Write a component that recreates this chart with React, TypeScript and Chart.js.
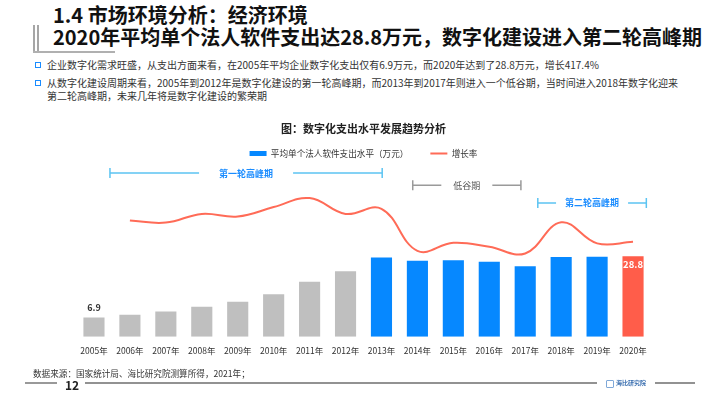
import React, { useEffect, useRef } from 'react';
import { Chart, registerables } from 'chart.js';

Chart.register(...registerables);

// ---------- data ----------
const years = ['2005年', '2006年', '2007年', '2008年', '2009年', '2010年', '2011年', '2012年', '2013年', '2014年', '2015年', '2016年', '2017年', '2018年', '2019年', '2020年'];
const spending = [6.9, 7.9, 9.0, 10.7, 12.5, 15.2, 19.7, 23.4, 28.3, 27.2, 27.4, 26.8, 25.2, 28.5, 28.6, 28.8];
const growthRate = [null, 15.5, 14.2, 19.8, 18.1, 24.2, 30.0, 19.8, 23.1, -4.0, 1.2, -1.4, -5.7, 14.4, 0.8, 1.8];
const seriesNames = ['平均单个法人软件支出水平（万元）', '增长率'];
const periodNames = ['第一轮高峰期', '低谷期', '第二轮高峰期'];
const labeledIndexes = [0, 15];
const chartTitle = '图：数字化支出水平发展趋势分析';
const headline1 = '1.4 市场环境分析：经济环境';
const headline2 = '2020年平均单个法人软件支出达28.8万元，数字化建设进入第二轮高峰期';
const bullets = [
  '企业数字化需求旺盛，从支出方面来看，在2005年平均企业数字化支出仅有6.9万元，而2020年达到了28.8万元，增长417.4%',
  '从数字化建设周期来看，2005年到2012年是数字化建设的第一轮高峰期，而2013年到2017年则进入一个低谷期，当时间进入2018年数字化迎来',
  '第二轮高峰期，未来几年将是数字化建设的繁荣期',
];
const sourceNote = '数据来源：国家统计局、海比研究院测算所得，2021年；';
const pageNo = '12';

// ---------- style ----------
const FONT = "'Noto Sans CJK SC', 'Noto Sans', sans-serif";
const GRAY = '#BFBFBF';
const BLUE = '#0688FF';
const RED = '#FF5D4A';
const LINE_RED = '#FF6B57';
const BRACKET_BLUE = '#5CC4F2';
const TEXT_BLUE = '#1A8CFF';

const barColor = (i: number) => (i === years.length - 1 ? RED : i < 8 ? GRAY : BLUE);

const bracketPlugin = {
  id: 'brackets',
  afterDraw(chart: any, _a: any, opts: any) {
    const { ctx } = chart;
    const xs = chart.scales.x;
    const ys = chart.scales.y;
    ctx.save();
    opts.items.forEach((b: any, k: number) => {
      const x0 = xs.getPixelForValue(b.from);
      const x1 = xs.getPixelForValue(b.to);
      const yy = ys.getPixelForValue(b.level);
      const cx = (x0 + x1) / 2;
      ctx.font = `${b.bold ? 'bold ' : ''}9px ${FONT}`;
      const text = periodNames[k];
      const tw = ctx.measureText(text).width;
      ctx.strokeStyle = b.lineColor;
      ctx.lineWidth = 1.5;
      ctx.beginPath();
      ctx.moveTo(x0, yy);
      ctx.lineTo(cx - tw / 2 - b.gap, yy);
      ctx.moveTo(cx + tw / 2 + b.gap, yy);
      ctx.lineTo(x1, yy);
      ctx.moveTo(x0, yy - 5);
      ctx.lineTo(x0, yy + 5);
      ctx.moveTo(x1, yy - 5);
      ctx.lineTo(x1, yy + 5);
      ctx.stroke();
      ctx.fillStyle = b.textColor;
      ctx.textAlign = 'center';
      ctx.textBaseline = 'middle';
      ctx.fillText(text, cx, yy);
    });
    ctx.restore();
  },
};

const valueLabelPlugin = {
  id: 'valueLabels',
  afterDatasetsDraw(chart: any) {
    const { ctx } = chart;
    const meta = chart.getDatasetMeta(0);
    ctx.save();
    ctx.textAlign = 'center';
    ctx.textBaseline = 'middle';
    labeledIndexes.forEach((i) => {
      const el = meta.data[i];
      const v = spending[i];
      if (i === years.length - 1) {
        ctx.font = `bold 9.5px ${FONT}`;
        ctx.fillStyle = '#FFFFFF';
        ctx.fillText(v.toFixed(1), el.x, el.y + 8.5);
      } else {
        ctx.font = `bold 9px ${FONT}`;
        ctx.fillStyle = '#333333';
        ctx.fillText(v.toFixed(1), el.x, el.y - 9.5);
      }
    });
    ctx.restore();
  },
};

function TrendChart() {
  const ref = useRef<HTMLCanvasElement | null>(null);
  useEffect(() => {
    if (!ref.current) return;
    Chart.defaults.font.family = FONT;
    const chart = new Chart(ref.current, {
      type: 'bar',
      data: {
        labels: years,
        datasets: [
          {
            type: 'bar',
            label: seriesNames[0],
            data: spending,
            backgroundColor: spending.map((_, i) => barColor(i)),
            borderWidth: 0,
            barPercentage: 0.6,
            categoryPercentage: 0.98,
            yAxisID: 'y',
          } as any,
          {
            type: 'line',
            label: seriesNames[1],
            data: growthRate,
            borderColor: LINE_RED,
            backgroundColor: LINE_RED,
            borderWidth: 2,
            pointRadius: 0,
            tension: 0.4,
            yAxisID: 'y1',
          } as any,
        ],
      },
      options: {
        animation: false,
        responsive: false,
        maintainAspectRatio: false,
        layout: { padding: { left: 76, right: 69, top: 0, bottom: 5 } },
        scales: {
          x: {
            grid: { display: false, drawTicks: false },
            border: { display: false },
            ticks: { color: '#333', font: { size: 8.5, family: FONT }, padding: 9, maxRotation: 0, autoSkip: false },
          },
          y: { display: false, min: 0, max: 60.4 },
          y1: { display: false, min: -59.4, max: 49.5, position: 'right' },
        },
        plugins: {
          title: {
            display: true,
            text: chartTitle,
            color: '#222',
            font: { size: 11, weight: 'bold', family: FONT },
            padding: { top: 12, bottom: -8 },
          },
          legend: {
            display: true,
            labels: {
              usePointStyle: true,
              pointStyleWidth: 17,
              boxHeight: 5,
              padding: 22,
              color: '#333',
              font: { size: 8.6, family: FONT },
              generateLabels: (c: any) => {
                const items = Chart.defaults.plugins.legend.labels.generateLabels(c);
                items.forEach((it: any) => {
                  if (it.datasetIndex === 0) {
                    it.pointStyle = 'rect';
                    it.fillStyle = BLUE;
                    it.strokeStyle = BLUE;
                    it.lineWidth = 0;
                  } else {
                    it.pointStyle = 'line';
                    it.strokeStyle = LINE_RED;
                    it.lineWidth = 2;
                  }
                  it.fontColor = '#333';
                });
                return items;
              },
            },
          },
          tooltip: { enabled: false },
          brackets: {
            items: [
              { from: 0.445, to: 8.02, level: 58.5, gap: 20, lineColor: BRACKET_BLUE, textColor: TEXT_BLUE, bold: true },
              { from: 8.87, to: 11.88, level: 54.2, gap: 12, lineColor: '#9A9A9A', textColor: '#555', bold: false },
              { from: 12.35, to: 15.37, level: 47.8, gap: 9, lineColor: BRACKET_BLUE, textColor: TEXT_BLUE, bold: true },
            ],
          },
        } as any,
      },
      plugins: [bracketPlugin, valueLabelPlugin],
    });
    return () => chart.destroy();
  }, []);
  return (
    <canvas
      ref={ref}
      width={720}
      height={260}
      style={{ position: 'absolute', left: 0, top: 110, width: 720, height: 260 }}
    />
  );
}

const abs = (left: number, centerY: number, size: number, extra: any = {}) => ({
  position: 'absolute' as const,
  left,
  top: centerY - size / 2 - 1,
  fontSize: size,
  lineHeight: `${size + 2}px`,
  whiteSpace: 'nowrap' as const,
  fontFamily: FONT,
  ...extra,
});

function FooterRule() {
  return (
    <svg width={720} height={8} style={{ position: 'absolute', left: 0, top: 379 }}>
      <line x1={25} y1={4} x2={57} y2={4} stroke="#6E6E6E" strokeWidth={1.4} />
      <line x1={85} y1={4} x2={597} y2={4} stroke="#6E6E6E" strokeWidth={1.4} />
      <line x1={655} y1={4} x2={695} y2={4} stroke="#6E6E6E" strokeWidth={1.4} />
    </svg>
  );
}

export default function App() {
  useEffect(() => {
    document.body.style.margin = '0';
  }, []);
  return (
    <div style={{ position: 'absolute', left: 0, top: 0, width: 720, height: 405, background: '#fff', overflow: 'hidden', fontFamily: FONT }}>
      {/* headline decoration */}
      <div style={{ position: 'absolute', left: 33, top: 25, width: 2, height: 27, background: '#A6A6A6' }} />
      <div style={{ position: 'absolute', left: 36.5, top: 25, width: 2, height: 27, background: '#A6A6A6' }} />
      <div style={{ position: 'absolute', left: 33, top: 51, width: 82, height: 2, background: '#B0B0B0' }} />
      <div style={abs(53, 15, 20, { fontWeight: 'bold', color: '#111' })}>{headline1}</div>
      <div style={abs(53, 37, 20, { fontWeight: 'bold', color: '#111' })}>{headline2}</div>

      {/* bullets */}
      {[65, 83].map((cy) => (
        <div key={cy} style={{ position: 'absolute', left: 35, top: cy - 3, width: 4, height: 4, border: `1.5px solid ${TEXT_BLUE}` }} />
      ))}
      <div style={abs(47, 65, 10, { color: '#333' })}>{bullets[0]}</div>
      <div style={abs(47, 83, 10, { color: '#333' })}>{bullets[1]}</div>
      <div style={abs(47, 96, 10, { color: '#333' })}>{bullets[2]}</div>

      <TrendChart />

      {/* footer */}
      <FooterRule />
      <div style={abs(33, 373, 8.6, { color: '#333' })}>{sourceNote}</div>
      <div style={abs(65, 385, 12, { color: '#222', fontWeight: 'bold' })}>{pageNo}</div>
      <div style={{ position: 'absolute', left: 606, top: 380, width: 6, height: 6, border: '1px solid #7FA8D8', borderRadius: 1 }} />
      <div style={abs(616, 383, 6, { color: '#3A6FB0', fontWeight: 'bold' })}>海比研究院</div>
    </div>
  );
}
